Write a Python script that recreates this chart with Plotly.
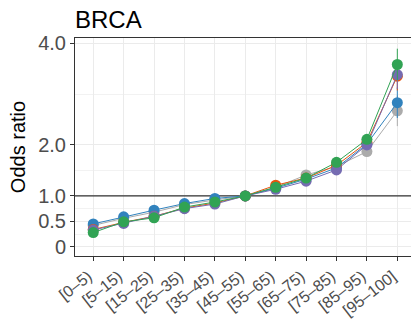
import plotly.graph_objects as go

categories = ["[0–5)", "[5–15)", "[15–25)", "[25–35)", "[35–45)", "[45–55)",
              "[55–65)", "[65–75)", "[75–85)", "[85–95)", "[95–100]"]

gray_vals   = [0.42, 0.56, 0.68, 0.83, 0.92, 1.0, 1.17, 1.41, 1.58, 1.87, 2.67]
blue_vals   = [0.45, 0.59, 0.72, 0.85, 0.95, 1.0, 1.15, 1.33, 1.55, 2.02, 2.83]
orange_vals = [0.34, 0.48, 0.60, 0.76, 0.86, 1.0, 1.21, 1.35, 1.60, 2.05, 3.35]
purple_vals = [0.33, 0.46, 0.60, 0.75, 0.84, 1.0, 1.13, 1.29, 1.51, 2.00, 3.38]
green_vals  = [0.28, 0.49, 0.57, 0.78, 0.88, 1.0, 1.17, 1.35, 1.66, 2.11, 3.58]

gray_err   = [0.04, 0.03, 0.03, 0.03, 0.02, 0.0, 0.03, 0.04, 0.05, 0.09, 0.30]
blue_err   = [0.04, 0.03, 0.03, 0.03, 0.02, 0.0, 0.03, 0.04, 0.05, 0.09, 0.30]
orange_err = [0.04, 0.03, 0.03, 0.03, 0.02, 0.0, 0.03, 0.04, 0.05, 0.09, 0.28]
purple_err = [0.04, 0.03, 0.03, 0.03, 0.02, 0.0, 0.03, 0.04, 0.05, 0.09, 0.28]
green_err  = [0.04, 0.03, 0.03, 0.03, 0.02, 0.0, 0.03, 0.04, 0.05, 0.09, 0.31]

series = [
    ("Group A", gray_vals, gray_err, "#ABABAB"),
    ("Group B", blue_vals, blue_err, "#3182BD"),
    ("Group C", orange_vals, orange_err, "#E6550D"),
    ("Group D", purple_vals, purple_err, "#756BB1"),
    ("Group E", green_vals, green_err, "#31A354"),
]

reference_level = 1.0
x_range = [-0.6, 10.45]

y_ticks = [0, 0.5, 1.0, 2.0, 4.0]
y_ticklabels = ["0", "0.5", "1.0", "2.0", "4.0"]
y_minor = [0.25, 0.75, 1.5, 3.0]

xpos = list(range(len(categories)))

fig = go.Figure()
fig.add_trace(go.Scatter(
    x=x_range, y=[reference_level, reference_level], mode="lines",
    line=dict(color="#333333", width=1.2), showlegend=False, hoverinfo="skip",
    cliponaxis=False,
))
for name, vals, err, col in series:
    fig.add_trace(go.Scatter(
        x=xpos, y=vals, name=name, mode="lines+markers",
        line=dict(color=col, width=1),
        marker=dict(color=col, size=11),
        error_y=dict(type="data", array=err, color=col, thickness=1, width=0),
        showlegend=False,
    ))

fig.update_layout(
    width=411, height=320,
    margin=dict(l=75, r=0, t=38, b=64),
    paper_bgcolor="white", plot_bgcolor="white",
    font=dict(family="Liberation Sans, Arial, sans-serif", color="#4D4D4D"),
    title=dict(text="BRCA", x=75/411, xanchor="left", y=1 - 20/320, yanchor="middle",
               font=dict(size=24, color="black")),
)
fig.update_xaxes(
    range=x_range, tickmode="array", tickvals=xpos, ticktext=categories,
    tickangle=-38, tickfont=dict(size=16, color="#4D4D4D"), automargin=False,
    ticklabelshift=-5,
    showline=True, linecolor="#333333", linewidth=1, mirror=True,
    ticks="outside", ticklen=4, tickcolor="#333333",
    showgrid=True, gridcolor="#EBEBEB", gridwidth=1, zeroline=False,
)
fig.update_yaxes(
    range=[-0.18, 4.1], tickmode="array", tickvals=y_ticks, ticktext=y_ticklabels,
    tickfont=dict(size=20, color="#4D4D4D"), automargin=False,
    showline=True, linecolor="#333333", linewidth=1,
    ticks="outside", ticklen=4, tickcolor="#333333",
    showgrid=True, gridcolor="#EBEBEB", gridwidth=1, zeroline=False,
    minor=dict(tickmode="array", tickvals=y_minor, showgrid=True,
               gridcolor="#F2F2F2", gridwidth=0.6, ticks=""),
    title=dict(text="Odds ratio", font=dict(size=20, color="black"), standoff=7),
)

fig.write_html("out.html")
